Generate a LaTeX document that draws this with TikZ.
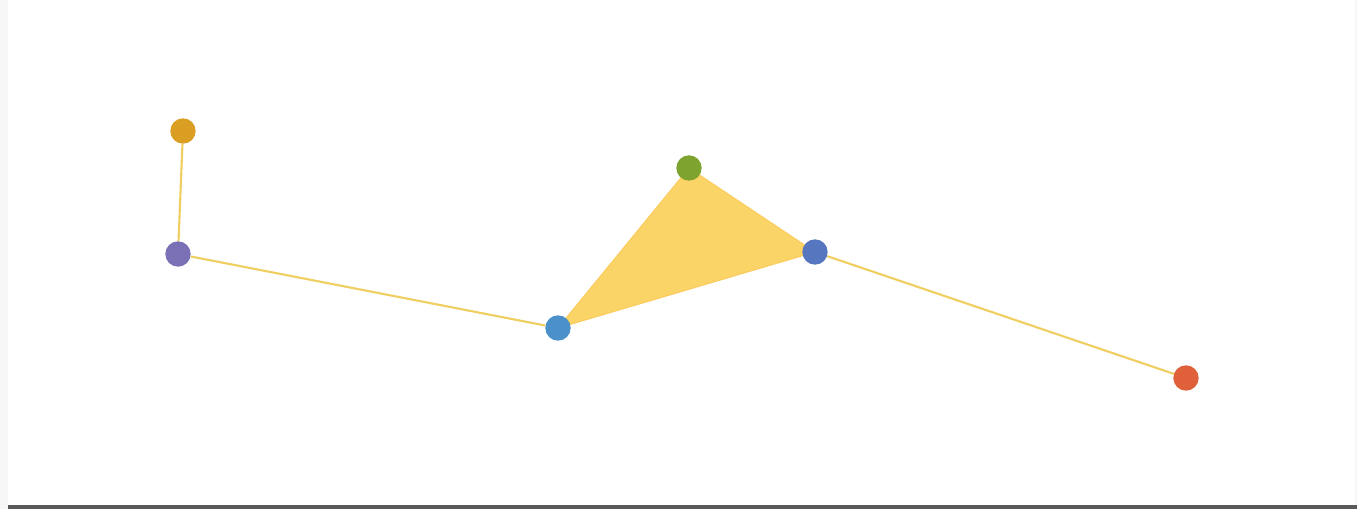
\documentclass[tikz,border=0pt]{standalone}
\usetikzlibrary{backgrounds}

\definecolor{dotorange}{HTML}{D99E22}
\definecolor{dotpurple}{HTML}{7A70B6}
\definecolor{dotblue}{HTML}{4B90C9}
\definecolor{dotgreen}{HTML}{7EA32E}
\definecolor{dotnavy}{HTML}{5677C0}
\definecolor{dotred}{HTML}{E0603A}
\definecolor{edgeyellow}{HTML}{F0CF62}
\definecolor{areayellow}{HTML}{FBD467}

\begin{document}
\begin{tikzpicture}[
    x=0.75pt, y=-0.75pt,
    vertex/.style={circle, inner sep=0pt, minimum size=19pt},
    link/.style={edgeyellow, line width=1.6pt},
    area/.style={fill=areayellow, draw=areayellow!90!orange, line width=0.8pt, line join=round},
]

    % frame
    \begin{scope}[on background layer]
        \fill[white] (0,0) rectangle (1357,509);
        \fill[black!3] (0,0) rectangle (8,509);
        \fill[black!3] (1355,0) rectangle (1357,509);
        \fill[black!65] (8,505) rectangle (1357,509);
    \end{scope}
    \useasboundingbox (0,0) rectangle (1357,509);

    \node (top)    [vertex, fill=dotorange] at (183,131) {};
    \node (left)   [vertex, fill=dotpurple] at (178,254) {};
    \node (mid)    [vertex, fill=dotblue]   at (558,328) {};
    \node (peak)   [vertex, fill=dotgreen]  at (689,168) {};
    \node (right)  [vertex, fill=dotnavy]   at (815,252) {};
    \node (far)    [vertex, fill=dotred]    at (1186,378) {};

    \begin{scope}[on background layer]
        \filldraw[area] (mid.center) -- (peak.center) -- (right.center) -- cycle;
        \draw[link] (top) -- (left);
        \draw[link] (left) -- (mid);
        \draw[link] (right) -- (far);
    \end{scope}

\end{tikzpicture}
\end{document}
